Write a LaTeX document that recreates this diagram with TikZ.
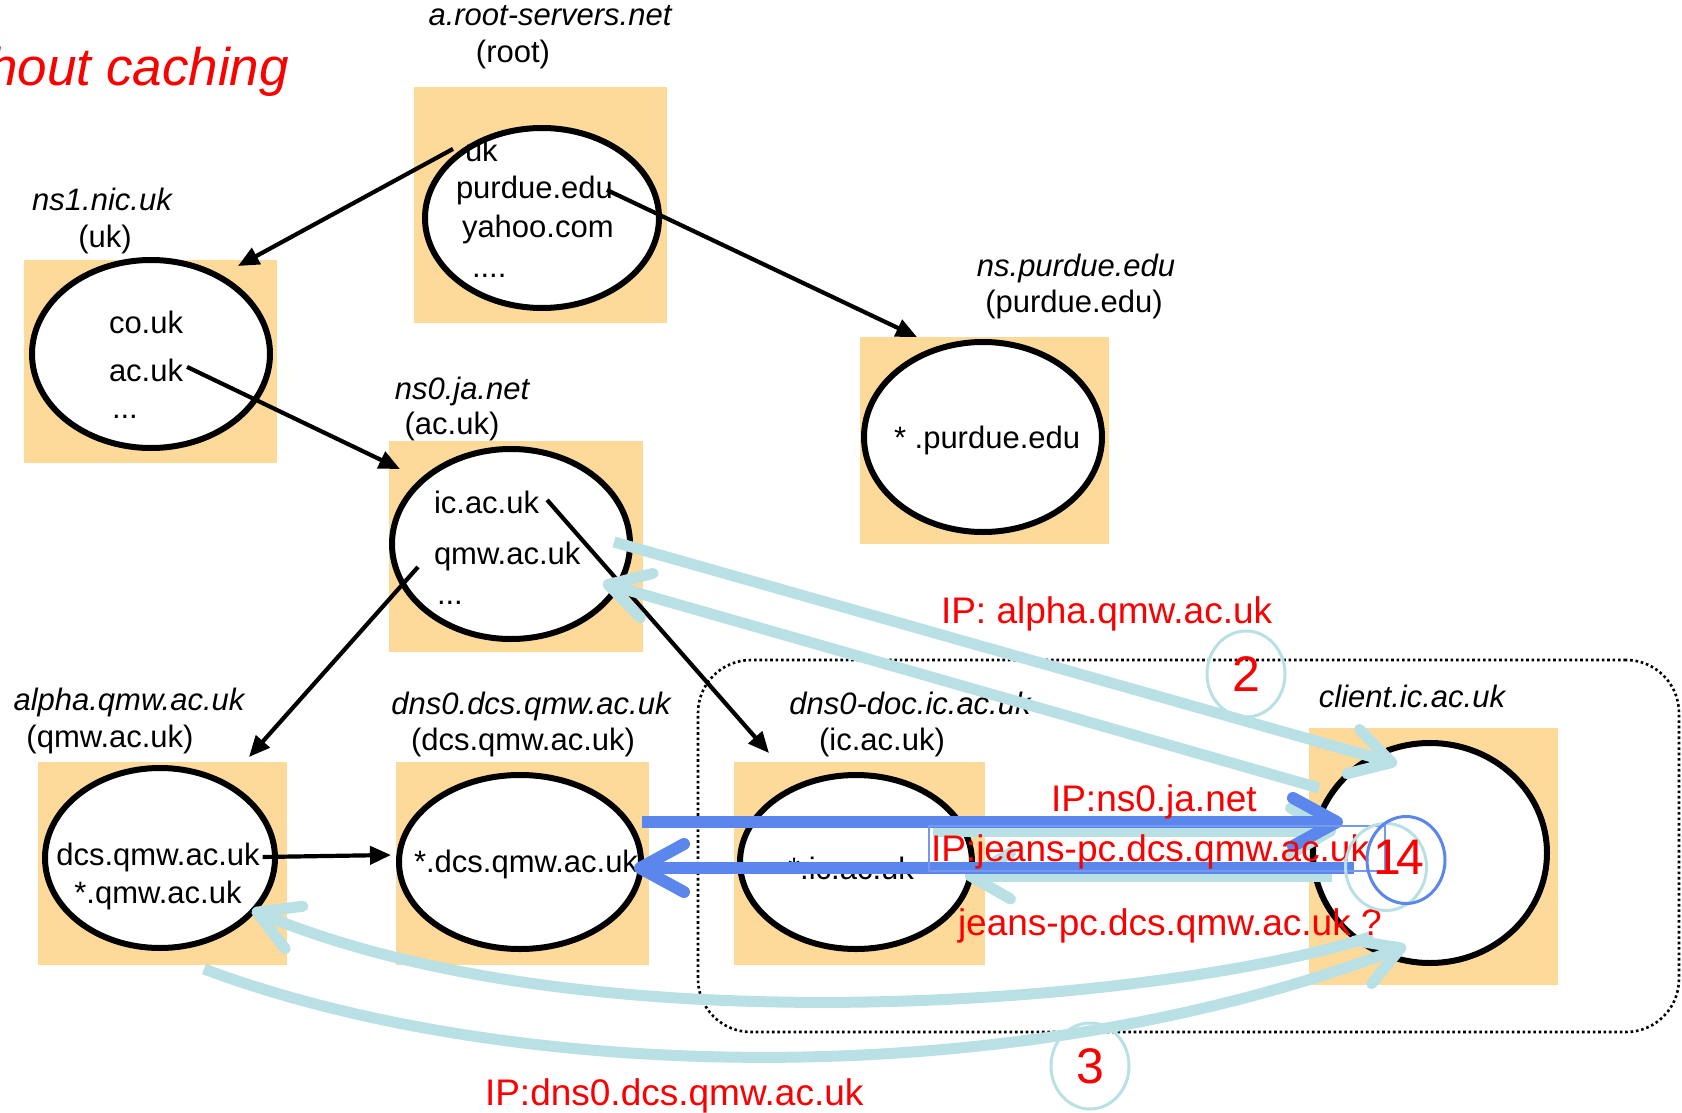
\documentclass[tikz,border=0pt]{standalone}
\usepackage{fontspec}
\setmainfont{Liberation Sans}
\usetikzlibrary{arrows.meta,calc,shapes.geometric}
\definecolor{zonefill}{RGB}{254,218,154}
\definecolor{reply}{RGB}{185,224,228}
\definecolor{query}{RGB}{91,135,236}
\definecolor{note}{RGB}{250,0,0}
\begin{document}
\begin{tikzpicture}[x=1pt,y=-1pt,
  every node/.style={inner sep=0pt,outer sep=0pt},
  zone/.style={fill=zonefill,draw=none,anchor=north west},
  server/.style={ellipse,draw,line width=6pt,fill=white},
  txt/.style={font=\fontsize{31}{36}\selectfont},
  host/.style={font=\fontsize{31}{36}\selectfont\itshape,anchor=base},
  dom/.style={font=\fontsize{31}{36}\selectfont,anchor=base},
  msg/.style={text=note,font=\fontsize{37}{44}\selectfont,anchor=base west},
  stepno/.style={text=note,font=\fontsize{50}{56}\selectfont},
  ring/.style={ellipse,line width=3pt},
  link/.style={line width=4.2pt,-{Triangle[length=21pt,width=18pt]}},
  replyarrow/.style={draw=reply,line width=11pt,-{Straight Barb[length=40pt,width=46pt,round]}},
  queryarrow/.style={draw=query,line width=12pt,-{Straight Barb[length=44pt,width=48pt,round]}},
  lan/.style={draw,line width=2.6pt,dash pattern=on 2.6pt off 2.8pt,rounded corners=53pt,anchor=north west}]

\useasboundingbox (0,0) rectangle (1682,1113);
\clip (0,0) rectangle (1682,1113);
\fill[white] (0,0) rectangle (1682,1113);

% title
\node[text=note,font=\fontsize{53}{60}\selectfont\itshape,anchor=base east] (title) at (289,86) {without caching};

% zone boxes
\node[zone,minimum width=253pt,minimum height=236pt] (rootbox) at (414,87) {};
\node[zone,minimum width=253pt,minimum height=203pt] (ns1box) at (24,260) {};
\node[zone,minimum width=249pt,minimum height=207pt] (purduebox) at (860,337) {};
\node[zone,minimum width=254pt,minimum height=211pt] (ns0box) at (389,441) {};
\node[zone,minimum width=249pt,minimum height=203pt] (alphabox) at (38,762) {};
\node[zone,minimum width=253pt,minimum height=203pt] (dcsbox) at (396,762) {};
\node[zone,minimum width=251pt,minimum height=203pt] (docbox) at (734,762) {};
\node[zone,minimum width=249pt,minimum height=257pt] (clientbox) at (1309,728) {};

% local network of the client
\node[lan,minimum width=981pt,minimum height=372pt] (campus) at (698,660) {};

% name servers
\node[server,minimum width=234pt,minimum height=180pt] (rootsrv) at (542,218) {};
\node[server,minimum width=238pt,minimum height=188pt] (ns1srv) at (151,354) {};
\node[server,minimum width=238pt,minimum height=190pt] (purduesrv) at (983,437) {};
\node[server,minimum width=238pt,minimum height=190pt] (ns0srv) at (511,544) {};
\node[server,minimum width=230pt,minimum height=180pt] (alphasrv) at (160,858) {};
\node[server,minimum width=242pt,minimum height=174pt] (dcssrv) at (520,862) {};
\node[server,minimum width=232pt,minimum height=174pt] (docsrv) at (856,862) {};
\node[server,minimum width=234pt,minimum height=220pt] (clientsrv) at (1430,853) {};

% zone contents
\node[txt,anchor=base west] (ukent) at (465,161) {uk};
\node[txt,anchor=base west] (purdueent) at (456,198) {purdue.edu};
\node[txt,anchor=base west] (yahooent) at (462,237) {yahoo.com};
\node[txt,anchor=base west] (rootmore) at (472,277) {....};

\node[txt,anchor=base west] (coent) at (109,333) {co.uk};
\node[txt,anchor=base west] (acent) at (109,381) {ac.uk};
\node[txt,anchor=base west] (ukmore) at (112,418) {...};

\node[txt,anchor=base west] (purdueall) at (894,448) {* .purdue.edu};

\node[txt,anchor=base west] (icent) at (434,513) {ic.ac.uk};
\node[txt,anchor=base west] (qmwent) at (434,564) {qmw.ac.uk};
\node[txt,anchor=base west] (acmore) at (437,604) {...};

\node[txt,anchor=base] (dcsent) at (158,865) {dcs.qmw.ac.uk};
\node[txt,anchor=base] (qmwall) at (158,903) {*.qmw.ac.uk};

\node[txt,anchor=base] (dcsall) at (526,872) {*.dcs.qmw.ac.uk};
\node[txt,anchor=base] (icall) at (851,879) {*.ic.ac.uk};

% server names and zones
\node[host] (roothost) at (550,26) {a.root-servers.net};
\node[dom] (rootdom) at (513,63) {(root)};
\node[host] (ns1host) at (102,211) {ns1.nic.uk};
\node[dom] (ns1dom) at (105,247) {(uk)};
\node[host] (purduehost) at (1076,276) {ns.purdue.edu};
\node[dom] (purduedom) at (1074,312) {(purdue.edu)};
\node[host] (ns0host) at (462,399) {ns0.ja.net};
\node[dom] (ns0dom) at (452,434) {(ac.uk)};
\node[host] (alphahost) at (129,710) {alpha.qmw.ac.uk};
\node[dom] (alphadom) at (110,747) {(qmw.ac.uk)};
\node[host] (dcshost) at (531,714) {dns0.dcs.qmw.ac.uk};
\node[dom] (dcsdom) at (523,750) {(dcs.qmw.ac.uk)};
\node[host] (dochost) at (910,714) {dns0-doc.ic.ac.uk};
\node[dom] (docdom) at (882,750) {(ic.ac.uk)};
\node[host] (clienthost) at (1412,707) {client.ic.ac.uk};

% delegations
\draw[link] ($(ukent.west)+(-12,-1)$) -- ($(ns1box.north east)+(-39,6)$);
\draw[link] ($(purdueent.east)+(-6,0)$) -- ($(purduebox.north west)+(57,0)$);
\draw[link] ($(acent.east)+(4,-3)$) -- ($(ns0box.north west)+(11,28)$);
\draw[link] ($(qmwent.west)+(-16,11)$) -- ($(alphabox.north east)+(-38,-5)$);
\draw[link] ($(icent.east)+(8,-2)$) -- ($(docbox.north west)+(35,-9)$);
\draw[link] ($(dcsent.east)+(3,0)$) -- ($(dcssrv.west)+(-8,-7)$);

% earlier exchanges
\draw[replyarrow] ($(ns0srv.center)+(103,-2)$) -- ($(clientsrv.center)+(-33,-89)$);
\draw[replyarrow] ($(clientsrv.center)+(-111,-65)$) -- ($(ns0srv.center)+(92,39)$);
\draw[replyarrow] ($(docsrv.center)+(77,-31)$) -- ($(clientsrv.center)+(-94,-22)$);
\draw[replyarrow] ($(clientsrv.center)+(-98,23)$) -- ($(docsrv.center)+(109,14)$);
\draw[replyarrow] ($(clientsrv.center)+(-57,83)$) .. controls (1180,1000) and (600,1055) .. ($(alphasrv.center)+(92,52)$);
\draw[replyarrow] ($(alphasrv.center)+(44,111)$) .. controls (500,1080) and (1000,1100) .. ($(clientsrv.center)+(-24,93)$);

% current exchange
\draw[queryarrow] ($(dcssrv.center)+(122,-40)$) -- ($(clientsrv.center)+(-87,-31)$);
\draw[queryarrow] ($(clientsrv.center)+(-76,15)$) -- ($(dcssrv.center)+(114,6)$);

\node[draw=query!85,line width=2pt,minimum width=456pt,minimum height=45pt,anchor=north west] (answerbox) at (929,826) {};

% messages
\node[msg] (m1) at (941,623) {IP: alpha.qmw.ac.uk};
\node[msg] (m2) at (1051,811) {IP:ns0.ja.net};
\node[msg] (m3) at (931,861) {IP:jeans-pc.dcs.qmw.ac.uk};
\node[msg] (m4) at (958,935) {jeans-pc.dcs.qmw.ac.uk ?};
\node[msg] (m5) at (485,1105) {IP:dns0.dcs.qmw.ac.uk};

% step numbers
\node[ring,draw=reply,minimum width=78pt,minimum height=86pt,stepno] (step2) at (1246,674) {2};
\node[ring,draw=reply,minimum width=78pt,minimum height=86pt,stepno] (step3) at (1090,1066) {3};
\node[ring,draw=reply,minimum width=81pt,minimum height=87pt] (step1ring) at (1386,867) {};
\node[ring,draw=query,minimum width=78pt,minimum height=87pt] (step4ring) at (1406,860) {};
\node[stepno] (step1) at (1387,857) {1};
\node[stepno] (step4) at (1410,857) {4};
\end{tikzpicture}
\end{document}
